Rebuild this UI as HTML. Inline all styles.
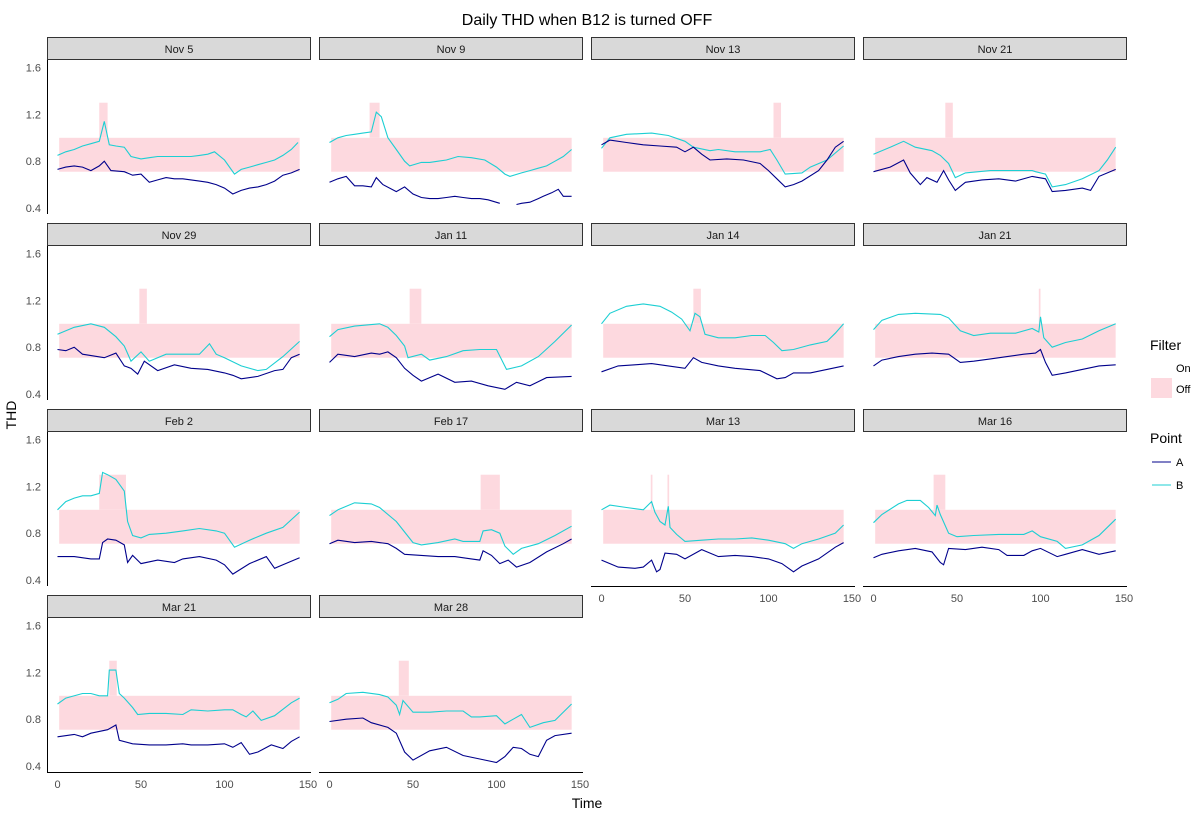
<!DOCTYPE html>
<html><head><meta charset="utf-8"><style>
body{margin:0;background:#fff;}
svg{display:block;font-family:"Liberation Sans",Arial,sans-serif;}
</style></head><body>
<svg id="chart" width="1204" height="814">
<text x="587" y="25" text-anchor="middle" font-size="16" fill="#000">Daily THD when B12 is turned OFF</text>
<text x="16" y="415" text-anchor="middle" font-size="14" fill="#000" transform="rotate(-90 16 415)">THD</text>
<text x="587" y="808" text-anchor="middle" font-size="14" fill="#000">Time</text>
<g>
<text x="1150" y="350" font-size="14" fill="#000">Filter</text>
<text x="1176" y="372" font-size="11" fill="#000">On</text>
<rect x="1151" y="378" width="21" height="20" fill="#fdd9df"></rect>
<text x="1176" y="393" font-size="11" fill="#000">Off</text>
<text x="1150" y="443" font-size="14" fill="#000">Point</text>
<line x1="1152" y1="462" x2="1171" y2="462" stroke="#00008b" stroke-width="1"></line>
<text x="1176" y="466" font-size="11" fill="#000">A</text>
<line x1="1152" y1="485" x2="1171" y2="485" stroke="#1ccfd3" stroke-width="1"></line>
<text x="1176" y="489" font-size="11" fill="#000">B</text>
</g>
</svg>
<script>
const panelNames = ["Nov 5","Nov 9","Nov 13","Nov 21","Nov 29","Jan 11","Jan 14","Jan 21","Feb 2","Feb 17","Mar 13","Mar 16","Mar 21","Mar 28"];
const spikeStart = [[25],[24],[103],[43],[49],[48],[55],[99],[25],[90.5],[29.5,39.5],[36],[31],[41.5]];
const spikeEnd   = [[30],[30],[107.5],[47.5],[53.5],[55],[59.5],[100],[41],[102],[30.5,40.5],[43],[35.5],[47.5]];
const bandLow = 0.71, bandHigh = 1.0, spikeHigh = 1.3, timeMin = 1, timeMax = 145;
const yTicks = [0.4,0.8,1.2,1.6];
const xTicks = [0,50,100,150];

const seriesA = [
 [[0,.73],[5,.75],[10,.76],[15,.75],[20,.72],[25,.76],[28,.8],[32,.72],[40,.71],[45,.68],[50,.69],[55,.62],[60,.64],[65,.66],[70,.65],[75,.65],[80,.64],[85,.63],[90,.62],[95,.6],[100,.57],[105,.52],[110,.55],[115,.57],[120,.58],[125,.6],[130,.63],[135,.68],[140,.7],[145,.73]],
 [[0,.62],[5,.65],[10,.67],[15,.59],[20,.59],[25,.58],[28,.66],[32,.6],[40,.54],[45,.58],[50,.52],[55,.49],[60,.48],[65,.48],[70,.49],[75,.5],[80,.49],[85,.48],[90,.48],[95,.47],[102,.44],[103,null],[112,.43],[115,.44],[120,.45],[125,.48],[128,.5],[133,.53],[137,.56],[140,.5],[145,.5]],
 [[0,.94],[5,.98],[15,.96],[25,.94],[35,.93],[45,.92],[50,.88],[55,.92],[60,.86],[65,.81],[75,.82],[85,.81],[95,.78],[100,.72],[105,.65],[110,.58],[115,.6],[120,.63],[130,.72],[135,.81],[140,.92],[145,.97]],
 [[0,.71],[10,.75],[18,.81],[22,.7],[28,.6],[32,.66],[38,.62],[42,.72],[45,.64],[49,.55],[55,.62],[65,.64],[75,.65],[85,.63],[95,.67],[103,.65],[107,.54],[115,.55],[125,.57],[130,.55],[135,.67],[145,.73]],
 [[0,.78],[5,.77],[10,.8],[15,.74],[28,.71],[35,.75],[40,.64],[44,.62],[48,.57],[52,.68],[60,.6],[70,.65],[80,.62],[90,.61],[100,.58],[105,.56],[110,.53],[120,.55],[130,.6],[135,.61],[140,.71],[145,.74]],
 [[0,.67],[5,.74],[15,.72],[25,.75],[30,.74],[35,.76],[40,.71],[45,.62],[50,.56],[55,.51],[65,.57],[75,.5],[85,.51],[95,.47],[105,.44],[112,.5],[120,.47],[130,.54],[145,.55]],
 [[0,.59],[10,.64],[20,.65],[30,.66],[40,.64],[50,.62],[55,.71],[60,.67],[70,.64],[80,.62],[95,.6],[105,.53],[110,.54],[115,.58],[125,.58],[135,.61],[145,.64]],
 [[0,.64],[5,.69],[15,.72],[25,.74],[35,.75],[45,.74],[52,.67],[60,.68],[70,.7],[80,.72],[90,.74],[97,.75],[100,.78],[103,.67],[107,.56],[115,.58],[125,.61],[135,.64],[145,.65]],
 [[0,.6],[10,.6],[20,.58],[25,.58],[27,.72],[30,.75],[35,.74],[40,.7],[42,.55],[45,.61],[50,.54],[60,.57],[70,.55],[75,.58],[85,.6],[95,.57],[100,.53],[105,.45],[115,.54],[125,.6],[130,.5],[135,.53],[145,.59]],
 [[0,.71],[5,.74],[15,.72],[25,.73],[35,.71],[40,.67],[45,.62],[55,.61],[65,.6],[75,.6],[85,.58],[90,.57],[92,.65],[97,.61],[102,.54],[107,.57],[112,.51],[120,.55],[130,.64],[140,.71],[145,.75]],
 [[0,.57],[5,.54],[10,.51],[20,.5],[25,.51],[30,.57],[33,.47],[35,.49],[38,.63],[45,.62],[50,.58],[60,.66],[70,.6],[80,.61],[90,.6],[100,.58],[108,.54],[115,.47],[120,.52],[130,.58],[140,.68],[145,.72]],
 [[0,.59],[5,.62],[15,.65],[25,.67],[35,.64],[40,.55],[42,.53],[45,.67],[55,.66],[65,.68],[75,.66],[80,.61],[90,.61],[95,.65],[100,.67],[110,.6],[115,.62],[125,.66],[135,.62],[145,.65]],
 [[0,.65],[10,.67],[15,.65],[20,.68],[30,.71],[35,.75],[37,.62],[45,.59],[55,.58],[65,.58],[75,.59],[80,.58],[90,.58],[100,.59],[105,.56],[110,.6],[115,.5],[120,.52],[128,.58],[135,.55],[140,.61],[145,.65]],
 [[0,.78],[10,.8],[20,.81],[25,.77],[35,.73],[40,.68],[45,.52],[50,.45],[60,.53],[70,.56],[80,.49],[90,.46],[100,.43],[105,.48],[110,.56],[115,.55],[120,.5],[125,.48],[130,.62],[135,.66],[145,.68]]
];
const seriesB = [
 [[0,.85],[5,.88],[10,.9],[15,.93],[20,.95],[25,.97],[28,1.14],[31,.94],[35,.93],[40,.92],[44,.84],[50,.82],[55,.83],[60,.84],[65,.84],[70,.84],[75,.84],[80,.84],[85,.85],[90,.86],[94,.88],[100,.81],[106,.69],[110,.73],[115,.75],[120,.77],[125,.79],[130,.81],[135,.85],[140,.9],[144,.96]],
 [[0,.96],[5,1.0],[10,1.02],[15,1.03],[20,1.04],[25,1.05],[28,1.22],[31,1.18],[35,1.0],[40,.9],[45,.8],[48,.76],[55,.79],[60,.79],[65,.8],[70,.81],[77,.84],[85,.83],[93,.81],[100,.75],[105,.69],[108,.67],[115,.7],[120,.72],[125,.74],[130,.76],[135,.8],[140,.84],[145,.9]],
 [[0,.91],[5,1.0],[15,1.03],[30,1.04],[40,1.02],[50,.97],[55,.92],[65,.89],[70,.9],[80,.88],[95,.88],[101,.9],[105,.81],[110,.69],[120,.7],[125,.75],[135,.81],[145,.93]],
 [[0,.86],[10,.92],[18,.97],[25,.92],[35,.89],[40,.85],[45,.78],[49,.66],[55,.7],[70,.72],[95,.72],[97,.71],[103,.69],[107,.58],[115,.6],[125,.65],[135,.72],[140,.81],[145,.92]],
 [[0,.91],[10,.97],[20,1.0],[28,.97],[35,.89],[40,.81],[44,.68],[50,.76],[55,.68],[65,.74],[75,.74],[85,.74],[91,.83],[95,.74],[100,.71],[110,.64],[120,.6],[125,.61],[135,.72],[145,.85]],
 [[0,.89],[5,.95],[15,.98],[30,1.0],[35,.97],[40,.9],[45,.81],[47,.71],[55,.74],[60,.69],[70,.72],[80,.77],[90,.78],[100,.78],[106,.61],[115,.64],[125,.72],[135,.85],[145,.99]],
 [[0,1.0],[5,1.09],[15,1.15],[25,1.17],[35,1.15],[42,1.1],[48,1.04],[53,.94],[56,1.09],[59,1.06],[62,.91],[70,.88],[80,.88],[90,.9],[98,.9],[103,.84],[108,.77],[115,.78],[125,.82],[135,.85],[140,.92],[145,1.0]],
 [[0,.95],[5,1.03],[15,1.08],[25,1.09],[40,1.08],[45,1.05],[52,.94],[60,.9],[70,.92],[85,.92],[95,.96],[99,.93],[100,1.06],[102,.88],[107,.8],[115,.84],[125,.87],[135,.94],[145,1.0]],
 [[0,1.0],[5,1.07],[10,1.1],[15,1.12],[20,1.12],[25,1.14],[27,1.32],[30,1.3],[35,1.26],[40,1.16],[42,.9],[45,.78],[50,.76],[55,.79],[65,.8],[75,.82],[85,.84],[95,.82],[100,.8],[106,.68],[115,.74],[125,.8],[135,.85],[145,.98]],
 [[0,.95],[5,1.0],[15,1.06],[25,1.05],[30,1.02],[40,.9],[45,.81],[50,.72],[55,.7],[65,.72],[75,.75],[80,.73],[90,.73],[92,.82],[97,.83],[102,.8],[105,.69],[110,.62],[115,.67],[125,.71],[135,.78],[145,.86]],
 [[0,1.0],[5,1.04],[15,1.02],[25,1.0],[30,1.07],[32,.98],[35,.9],[38,.87],[40,1.03],[41,.85],[45,.79],[50,.73],[60,.74],[70,.75],[80,.75],[90,.76],[100,.74],[110,.71],[115,.67],[120,.71],[130,.75],[140,.8],[145,.87]],
 [[0,.89],[5,.96],[15,1.05],[20,1.08],[28,1.08],[33,1.02],[37,.95],[38,1.04],[40,.96],[45,.8],[50,.77],[60,.78],[75,.79],[90,.79],[95,.82],[100,.77],[110,.73],[115,.67],[125,.7],[135,.78],[145,.92]],
 [[0,.93],[5,.98],[15,1.02],[20,1.02],[25,1.0],[30,1.0],[31,1.22],[35,1.22],[37,1.02],[40,.98],[45,.9],[48,.84],[55,.85],[65,.85],[75,.84],[80,.88],[90,.87],[100,.88],[105,.88],[110,.84],[113,.82],[117,.87],[122,.79],[130,.83],[140,.94],[145,.98]],
 [[0,.94],[5,.97],[10,1.02],[20,1.03],[30,1.01],[35,.99],[40,.92],[42,.84],[44,.96],[50,.86],[60,.86],[70,.87],[80,.87],[85,.82],[90,.82],[100,.83],[105,.76],[110,.8],[115,.84],[120,.73],[128,.77],[135,.79],[145,.93]]
];

const NS = "http://www.w3.org/2000/svg";
const svg = document.getElementById("chart");
function mk(tag, attrs, parent){const e=document.createElementNS(NS,tag);for(const k in attrs)e.setAttribute(k,attrs[k]);(parent||svg).appendChild(e);return e;}
const colLeft=[47,319,591,863], rowTop=[60,246,432,618];
const PW=264, PH=154;
function xScale(left,t){return left+10.5+t*1.67;}
function yScale(top,v){return top+148-(v-0.4)*117;}

panelNames.forEach((name,i)=>{
  const col=i%4,row=Math.floor(i/4),L=colLeft[col],T=rowTop[row];
  const g=mk("g",{});
  
  
  const strip=mk("rect",{x:L+0.5,y:T-22.5,width:PW-1,height:22,fill:"#d9d9d9",stroke:"#333","stroke-width":1},g);
  
  
  const st=mk("text",{x:L+PW/2,y:T-7,"text-anchor":"middle","font-size":11,fill:"#1a1a1a"},g);
  st.textContent=name;
  
  
  // band
  const band=mk("rect",{x:xScale(L,timeMin),y:yScale(T,bandHigh),width:xScale(L,timeMax)-xScale(L,timeMin),height:yScale(T,bandLow)-yScale(T,bandHigh),fill:"#fdd9df"},g);
  
  
  spikeStart[i].forEach((s,k)=>{
    const r=mk("rect",{x:xScale(L,s),y:yScale(T,spikeHigh),width:xScale(L,spikeEnd[i][k])-xScale(L,s),height:yScale(T,bandHigh)-yScale(T,spikeHigh),fill:"#fdd9df"},g);
    
    
  });
  [[seriesB[i],"#1ccfd3","series-b-line"],[seriesA[i],"#00008b","series-a-line"]].forEach(([pts,c,nm])=>{
    let d="",pen=false;
    pts.forEach(p=>{if(p[1]===null){pen=false;return;}d+=(pen?"L":"M")+xScale(L,p[0]).toFixed(1)+","+yScale(T,p[1]).toFixed(1);pen=true;});
    const pl=mk("path",{d:d,fill:"none",stroke:c,"stroke-width":1.1},g);
    
    
  });
  if(col===0){
    const ax=mk("line",{x1:L+0.5,y1:T,x2:L+0.5,y2:T+PH,stroke:"#000","stroke-width":1},g);
    
    
    yTicks.forEach(v=>{
      const tt=mk("text",{x:L-6,y:yScale(T,v)+4,"text-anchor":"end","font-size":11,fill:"#4d4d4d"},g);
      tt.textContent=v.toFixed(1);
      
      
    });
  }
  const hasX = row===3 || (row===2 && col>=2);
  if(hasX){
    const bx=mk("line",{x1:L,y1:T+PH+0.5,x2:L+PW,y2:T+PH+0.5,stroke:"#000","stroke-width":1},g);
    
    
    xTicks.forEach(t=>{
      const tt=mk("text",{x:xScale(L,t),y:T+PH+16,"text-anchor":"middle","font-size":11,fill:"#4d4d4d"},g);
      tt.textContent=t;
      
      
    });
  }
});
</script>
</body></html>
